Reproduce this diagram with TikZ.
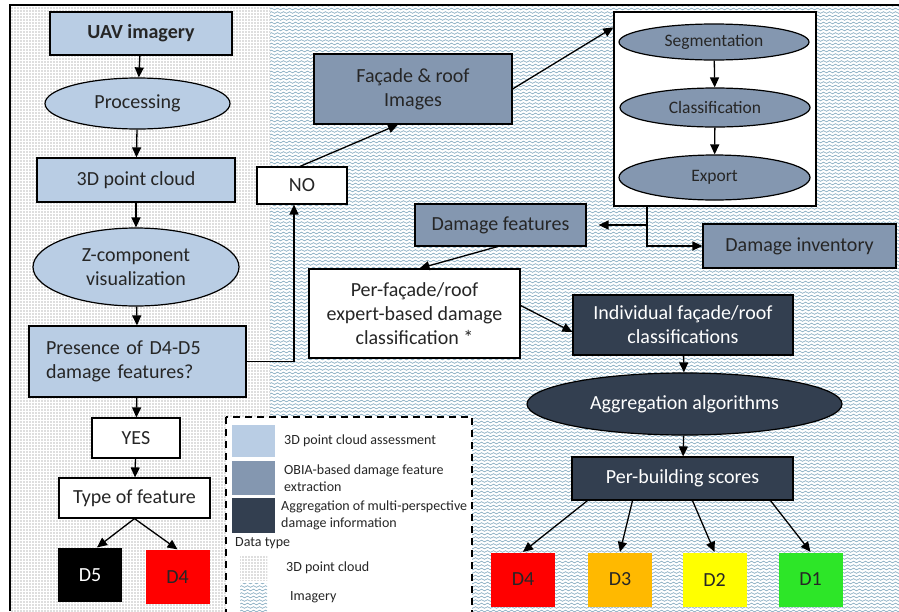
\documentclass[tikz,border=0pt]{standalone}
\usepackage{fontspec}
\setmainfont{Carlito}
\usetikzlibrary{arrows.meta}
\usetikzlibrary{patterns}
\usetikzlibrary{shapes.geometric}

\definecolor{cloudblue}{RGB}{185,205,228}
\definecolor{obiablue}{RGB}{132,151,176}
\definecolor{aggdark}{RGB}{51,63,80}
\definecolor{wavecol}{RGB}{125,165,188}
\definecolor{dotcol}{RGB}{115,115,115}
\definecolor{dred}{RGB}{255,0,0}
\definecolor{dorange}{RGB}{255,185,0}
\definecolor{dyellow}{RGB}{255,255,0}
\definecolor{dgreen}{RGB}{45,230,40}

\pgfdeclarepatternformonly{pcdots}{\pgfqpoint{-1pt}{-1pt}}{\pgfqpoint{1pt}{1pt}}{\pgfqpoint{3pt}{3pt}}{%
 \pgfpathcircle{\pgfpointorigin}{0.6pt}
 \pgfusepath{fill}}
\pgfdeclarepatternformonly{waves}{\pgfqpoint{0pt}{-1.5pt}}{\pgfqpoint{6pt}{1.5pt}}{\pgfqpoint{6pt}{3.5pt}}{%
 \pgfsetlinewidth{0.6pt}
 \pgfpathmoveto{\pgfqpoint{0pt}{0pt}}
 \pgfpathcurveto{\pgfqpoint{1pt}{1.1pt}}{\pgfqpoint{2pt}{1.1pt}}{\pgfqpoint{3pt}{0pt}}
 \pgfpathcurveto{\pgfqpoint{4pt}{-1.1pt}}{\pgfqpoint{5pt}{-1.1pt}}{\pgfqpoint{6pt}{0pt}}
 \pgfusepath{stroke}}

\tikzset{
 base/.style={draw=black, line width=1.2pt, text=black!85, font=\fontsize{20}{24}\selectfont, align=center, inner sep=2pt},
 sz/.style 2 args={minimum width=#1, minimum height=#2},
 cloudbox/.style={base, rectangle, fill=cloudblue},
 cloudell/.style={base, ellipse, fill=cloudblue},
 obiabox/.style={base, rectangle, fill=obiablue},
 obiaell/.style={base, ellipse, fill=obiablue, font=\fontsize{17.5}{21}\selectfont},
 aggbox/.style={base, rectangle, fill=aggdark, text=white},
 aggell/.style={base, ellipse, fill=aggdark, text=white},
 plainbox/.style={base, rectangle, fill=white},
 dbox/.style={base, rectangle, draw=none, text=black!85, minimum width=64pt, minimum height=54pt},
 arr/.style={-{Triangle[length=10pt,width=9pt]}, line width=1.3pt},
 lgdtext/.style={font=\fontsize{14}{16.5}\selectfont, text=black!85, align=left, anchor=west, inner sep=0pt},
}

\begin{document}
\begin{tikzpicture}[x=1pt,y=-1pt]
\clip (0,0) rectangle (899,611);
\fill[white] (0,0) rectangle (899,611);
\fill[pattern=pcdots, pattern color=dotcol] (10,5) rectangle (270,611);
\fill[pattern=waves, pattern color=wavecol] (270,5) rectangle (899,611);
\draw[line width=2pt] (10,611) -- (10,5) -- (899,5);

% point cloud branch
\node[cloudbox, font=\bfseries\fontsize{20}{24}\selectfont, sz={182pt}{43pt}] (uav) at (141,33.5) {UAV imagery};
\node[cloudell, sz={185pt}{51pt}] (proc) at (137.5,103.5) {Processing};
\node[cloudbox, sz={198pt}{44pt}] (pc) at (136,180) {3D point cloud};
\node[cloudell, sz={206pt}{78pt}] (zcomp) at (136,267) {Z-component\\visualization};
\node[cloudbox, sz={217pt}{71pt}, text width=183pt, inner xsep=17pt, align=left] (pres) at (137.5,361.5) {Presence of D4-D5\\damage features?};
\node[plainbox, sz={88pt}{40pt}] (yes) at (136,438) {YES};
\node[plainbox, sz={151pt}{40pt}] (type) at (134.5,498) {Type of feature};
\node[dbox, fill=black, text=white] (dfive) at (90,575) {D5};
\node[dbox, fill=dred] (dfoura) at (177.5,577) {D4};

% imagery branch
\node[plainbox, sz={90pt}{37pt}] (no) at (302,185.5) {NO};
\node[obiabox, sz={198pt}{70pt}] (facade) at (413,89) {Façade \& roof\\Images};
\node[plainbox, sz={202pt}{194pt}] (obia) at (715,109) {};
\node[obiaell, sz={190pt}{36pt}] (seg) at (714,42) {Segmentation};
\node[obiaell, sz={190pt}{39pt}] (cls) at (715,107.5) {Classification};
\node[obiaell, sz={191pt}{45pt}] (exp) at (714.5,177.5) {Export};
\node[obiabox, sz={171pt}{42pt}] (dfeat) at (500.5,225) {Damage features};
\node[obiabox, sz={193pt}{44pt}] (dinv) at (799.5,246) {Damage inventory};
\node[plainbox, sz={211pt}{89pt}] (perfac) at (414.5,313.5) {Per-façade/roof\\expert-based damage\\classification *};
\node[aggbox, sz={220pt}{60pt}] (indiv) at (683,325) {Individual façade/roof\\classifications};
\node[aggell, sz={315pt}{62pt}] (agg) at (684.5,404) {Aggregation algorithms};
\node[aggbox, sz={221pt}{43pt}] (pbs) at (682.5,478.5) {Per-building scores};
\node[dbox, fill=dred] (dfourb) at (523,579.5) {D4};
\node[dbox, fill=dorange] (dthree) at (620,579.5) {D3};
\node[dbox, fill=dyellow] (dtwo) at (714.5,579.5) {D2};
\node[dbox, fill=dgreen] (done) at (810.5,579.5) {D1};
\coordinate (split) at ([xshift=-68pt]obia.south);

\draw[arr] (uav) -- (proc);
\draw[arr] (proc) -- (pc);
\draw[arr] (pc) -- (zcomp);
\draw[arr] (zcomp) -- (pres);
\draw[arr] (pres) -- (yes);
\draw[arr] (yes) -- (type);
\draw[arr] (type.south) -- ([xshift=7pt]dfive.north);
\draw[arr] (type.south) -- (dfoura.north);
\draw[arr] (pres.east) -| ([xshift=-8pt]no.south);
\draw[arr] ([xshift=-2pt]no.north) -- ([xshift=-15pt]facade.south);
\draw[arr] (facade.east) -- ([yshift=-16pt]obia.north west);
\draw[arr] (seg) -- (cls);
\draw[arr] (cls) -- (exp);
\draw[arr] (split) |- (dinv.west);
\draw[arr, shorten >=12pt] (split |- dfeat.east) -- (dfeat.east);
\draw[arr] ([xshift=-3pt]dfeat.south) -- ([xshift=5pt]perfac.north);
\draw[arr] ([yshift=8pt]perfac.east) -- ([yshift=-7pt]indiv.west);
\draw[arr] (indiv) -- (agg);
\draw[arr] (agg) -- (pbs);
\draw[arr] ([xshift=-95pt]pbs.south) -- (dfourb.north);
\draw[arr] ([xshift=-50pt]pbs.south) -- (dthree.north);
\draw[arr] ([xshift=10pt]pbs.south) -- (dtwo.north);
\draw[arr] ([xshift=88pt]pbs.south) -- (done.north);

% legend
\draw[fill=white, line width=1.5pt, dash pattern=on 7pt off 5pt] (226,417) rectangle (472,640);
\fill[cloudblue] (232,425) rectangle (275,457);
\fill[obiablue] (232,461) rectangle (275,495);
\fill[aggdark] (232,498) rectangle (275,533);
\fill[pattern=pcdots, pattern color=dotcol] (240,555) rectangle (267,580);
\fill[pattern=waves, pattern color=wavecol] (240,583) rectangle (267,611);
\node[lgdtext] (lgdpc) at (284,441) {3D point cloud assessment};
\node[lgdtext] (lgdobia) at (284,478) {OBIA-based damage feature\\extraction};
\node[lgdtext] (lgdagg) at (281,515.5) {Aggregation of multi-perspective\\damage information};
\node[lgdtext] (lgdtype) at (235,543) {Data type};
\node[lgdtext] (lgdcloud) at (286,568) {3D point cloud};
\node[lgdtext] (lgdimg) at (290,597) {Imagery};
\end{tikzpicture}
\end{document}
